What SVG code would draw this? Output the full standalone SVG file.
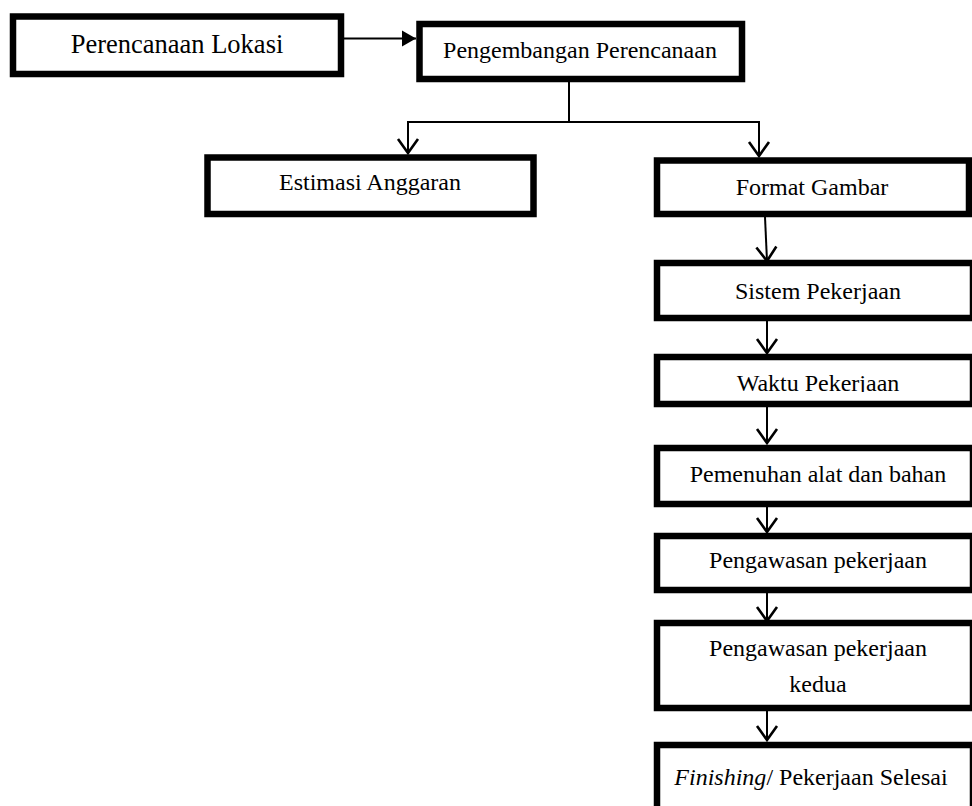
<svg xmlns="http://www.w3.org/2000/svg" width="972" height="806" viewBox="0 0 972 806">
<style>
.box{fill:#fff;stroke:#000;stroke-width:6.5}
.t{font-family:"Liberation Serif","Times New Roman",serif;font-size:24px;fill:#000;text-anchor:middle}
.c{fill:none;stroke:#000;stroke-width:2}
</style>
<defs>
<marker id="v" markerUnits="userSpaceOnUse" markerWidth="30" markerHeight="30" refX="0" refY="0" viewBox="-15 -15 30 30" orient="auto" overflow="visible">
<path d="M-14,-10 L0,0 L-14,10" fill="none" stroke="#000" stroke-width="2.6"/>
</marker>
<marker id="f" markerUnits="userSpaceOnUse" markerWidth="20" markerHeight="20" refX="0" refY="0" viewBox="-15 -10 20 20" orient="auto" overflow="visible">
<path d="M-14,-8 L0,0 L-14,8 Z" fill="#000"/>
</marker>
<clipPath id="wclip"><rect x="657" y="356" width="316" height="36"/></clipPath>
</defs>
<g id="connectors">
<line class="c" x1="344" y1="38.5" x2="416" y2="38.5" marker-end="url(#f)"/>
<line class="c" x1="569" y1="82" x2="569" y2="122"/>
<line class="c" x1="407" y1="122" x2="760" y2="122"/>
<line class="c" x1="408" y1="122" x2="408" y2="153" marker-end="url(#v)"/>
<line class="c" x1="759" y1="122" x2="759" y2="156" marker-end="url(#v)"/>
<line class="c" x1="765" y1="217" x2="767" y2="261" marker-end="url(#v)"/>
<line class="c" x1="767" y1="321" x2="767" y2="353" marker-end="url(#v)"/>
<line class="c" x1="767" y1="407" x2="767" y2="443" marker-end="url(#v)"/>
<line class="c" x1="767" y1="507" x2="767" y2="532" marker-end="url(#v)"/>
<line class="c" x1="767" y1="593" x2="767" y2="621" marker-end="url(#v)"/>
<line class="c" x1="767" y1="711" x2="767" y2="740" marker-end="url(#v)"/>
</g>
<g id="perencanaan-lokasi">
<rect class="box" x="13" y="16.5" width="328" height="57.5"/>
<text class="t" x="177" y="53" style="font-size:26.5px">Perencanaan Lokasi</text>
</g>
<g id="pengembangan-perencanaan">
<rect class="box" x="419.5" y="24" width="322.5" height="55"/>
<text class="t" x="580" y="58">Pengembangan Perencanaan</text>
</g>
<g id="estimasi-anggaran">
<rect class="box" x="207.5" y="157.5" width="326" height="56.5"/>
<text class="t" x="370" y="190">Estimasi Anggaran</text>
</g>
<g id="format-gambar">
<rect class="box" x="657" y="160.5" width="312" height="53.5"/>
<text class="t" x="812" y="195">Format Gambar</text>
</g>
<g id="sistem-pekerjaan">
<rect class="box" x="657" y="263" width="316" height="55"/>
<text class="t" x="818" y="299">Sistem Pekerjaan</text>
</g>
<g id="waktu-pekerjaan">
<rect class="box" x="657" y="357" width="316" height="47"/>
<text class="t" x="818" y="391" clip-path="url(#wclip)">Waktu Pekerjaan</text>
</g>
<g id="pemenuhan-alat">
<rect class="box" x="657" y="448" width="316" height="56"/>
<text class="t" x="818" y="482">Pemenuhan alat dan bahan</text>
</g>
<g id="pengawasan-pekerjaan">
<rect class="box" x="657" y="536" width="316" height="54"/>
<text class="t" x="818" y="568">Pengawasan pekerjaan</text>
</g>
<g id="pengawasan-kedua">
<rect class="box" x="657" y="623" width="316" height="85"/>
<text class="t" x="818" y="656">Pengawasan pekerjaan</text>
<text class="t" x="818" y="692">kedua</text>
</g>
<g id="finishing">
<rect class="box" x="657" y="745" width="316" height="90"/>
<text class="t" x="811" y="785"><tspan font-style="italic">Finishing</tspan>/ Pekerjaan Selesai</text>
</g>
</svg>
